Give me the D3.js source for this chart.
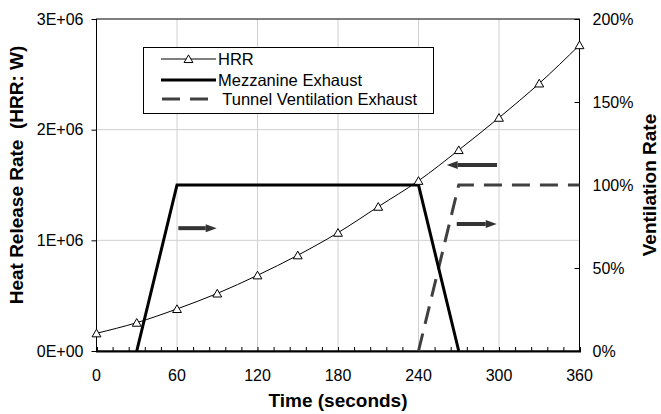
<!DOCTYPE html>
<html>
<head>
<meta charset="utf-8">
<script src="https://cdn.jsdelivr.net/npm/d3@7"></script>
<style>
  body { margin: 0; background: #fff; }
  text { font-family: "Liberation Sans", Arial, sans-serif; fill: #000; }
</style>
</head>
<body>
<svg id="chart" width="661" height="414"></svg>
<script>
const width = 661;
const height = 414;

// data
const hrrTime = [0, 30, 60, 90, 120, 150, 180, 210, 240, 270, 300, 330, 360];
const hrrValues = [160000, 256000, 380000, 520000, 684000, 865000, 1069000, 1304000, 1538000, 1816000, 2108000, 2418000, 2764000];

const mezzTime = [30, 60, 240, 270];
const mezzRate = [0, 1, 1, 0];

const tunnelTime = [240, 270, 360];
const tunnelRate = [0, 1, 1];

const xTicks = [0, 60, 120, 180, 240, 300, 360];
const yLeftTicks = [0, 1e6, 2e6, 3e6];
const yLeftLabels = ["0E+00", "1E+06", "2E+06", "3E+06"];
const yRightTicks = [0, 0.5, 1, 1.5, 2];

const legendNames = ["HRR", "Mezzanine Exhaust", " Tunnel Ventilation Exhaust"];

const margin = { left: 96.5, right: 81.5, top: 19, bottom: 63 };

const svg = d3.select("#chart");

const x = d3.scaleLinear().domain([0, 360]).range([margin.left, width - margin.right]);
const yL = d3.scaleLinear().domain([0, 3e6]).range([height - margin.bottom, margin.top]);
const yR = d3.scaleLinear().domain([0, 2]).range([height - margin.bottom, margin.top]);

const x0 = margin.left, x1 = width - margin.right;
const y0 = height - margin.bottom, y1 = margin.top;

/* grid */
const grid = svg.append("g").attr("stroke", "#d0d0d0").attr("stroke-width", 1);
xTicks.slice(1, -1).forEach(t => {
    grid.append("line")
        .attr("x1", x(t)).attr("x2", x(t))
        .attr("y1", y0).attr("y2", y1);
});
yLeftTicks.slice(1, -1).forEach(v => {
    grid.append("line")
        .attr("x1", x0).attr("x2", x1)
        .attr("y1", yL(v)).attr("y2", yL(v));
});

/* plot frame */
svg.append("rect")
    .attr("x", x0).attr("y", y1)
    .attr("width", x1 - x0).attr("height", y0 - y1)
    .attr("fill", "none").attr("stroke", "#000").attr("stroke-width", 1);

/* axes */
const xAxis = svg.append("g")
    .attr("transform", `translate(0,${y0})`)
    .call(d3.axisBottom(x).tickValues(d3.range(0, 361, 12)).tickSize(-4).tickFormat(""));
xAxis.select(".domain").attr("stroke", "#000").attr("stroke-width", 2);
svg.append("g")
    .attr("transform", `translate(0,${y0})`)
    .selectAll("text")
    .data(xTicks)
    .enter()
    .append("text")
    .attr("x", d => x(d))
    .attr("y", 30)
    .attr("text-anchor", "middle")
    .attr("font-size", 16)
    .text(d => d);

const yAxisL = svg.append("g")
    .attr("transform", `translate(${x0},0)`)
    .call(d3.axisLeft(yL).tickValues(yLeftTicks).tickSize(5).tickPadding(8)
        .tickFormat((d, i) => yLeftLabels[i]));
yAxisL.select(".domain").remove();
yAxisL.selectAll("text").attr("font-size", 16).attr("font-family", "Liberation Sans, Arial, sans-serif");

const yAxisR = svg.append("g")
    .attr("transform", `translate(${x1},0)`)
    .call(d3.axisRight(yR).tickValues(yRightTicks).tickSize(-5).tickPadding(13)
        .tickFormat(d3.format(".0%")));
yAxisR.select(".domain").remove();
yAxisR.selectAll("text").attr("font-size", 16).attr("font-family", "Liberation Sans, Arial, sans-serif");

/* series */
const rateLine = d3.line().x(d => x(d[0])).y(d => yR(d[1]));
svg.append("path")
    .datum(d3.zip(tunnelTime, tunnelRate))
    .attr("d", rateLine)
    .attr("fill", "none")
    .attr("stroke", "#404040")
    .attr("stroke-width", 3)
    .attr("stroke-dasharray", "18,10");

svg.append("path")
    .datum(d3.zip(mezzTime, mezzRate))
    .attr("d", rateLine)
    .attr("fill", "none")
    .attr("stroke", "#000")
    .attr("stroke-width", 3)
    .attr("stroke-linejoin", "miter");

const hrrData = d3.zip(hrrTime, hrrValues);
svg.append("path")
    .datum(hrrData)
    .attr("d", d3.line().x(d => x(d[0])).y(d => yL(d[1])).curve(d3.curveMonotoneX))
    .attr("fill", "none")
    .attr("stroke", "#000")
    .attr("stroke-width", 1);

const tri = d3.symbol().type(d3.symbolTriangle).size(34);
svg.append("g")
    .selectAll("path")
    .data(hrrData)
    .enter()
    .append("path")
    .attr("d", tri)
    .attr("transform", d => `translate(${x(d[0])},${yL(d[1]) + 1})`)
    .attr("fill", "#fff")
    .attr("stroke", "#000")
    .attr("stroke-width", 1);

/* arrows showing which axis each series reads from */
function arrow(xa, xb, yy) {
    const dir = xb > xa ? 1 : -1;
    const head = 11;
    svg.append("line")
        .attr("x1", xa).attr("x2", xb - dir * head)
        .attr("y1", yy).attr("y2", yy)
        .attr("stroke", "#333").attr("stroke-width", 4);
    svg.append("path")
        .attr("d", `M${xb},${yy}L${xb - dir * head},${yy - 4}L${xb - dir * head},${yy + 4}Z`)
        .attr("fill", "#333");
}
arrow(x(61), x(89.6), yR(0.74));
arrow(x(268.5), x(298.3), yR(0.765));
arrow(x(298.5), x(261), yL(1.68e6));

/* legend */
const lg = svg.append("g");
lg.append("rect")
    .attr("x", 143.5).attr("y", 47.5)
    .attr("width", 290).attr("height", 66)
    .attr("fill", "#fff").attr("stroke", "#000").attr("stroke-width", 1);
const rows = [59, 80, 99];
lg.append("line").attr("x1", 161).attr("x2", 216).attr("y1", rows[0]).attr("y2", rows[0])
    .attr("stroke", "#000").attr("stroke-width", 1);
lg.append("path").attr("d", tri).attr("transform", `translate(188.5,${rows[0] + 1})`)
    .attr("fill", "#fff").attr("stroke", "#000");
lg.append("line").attr("x1", 161).attr("x2", 216).attr("y1", rows[1]).attr("y2", rows[1])
    .attr("stroke", "#000").attr("stroke-width", 3);
lg.append("line").attr("x1", 162).attr("x2", 216).attr("y1", rows[2]).attr("y2", rows[2])
    .attr("stroke", "#404040").attr("stroke-width", 3).attr("stroke-dasharray", "18,10");
lg.selectAll("text.leg")
    .data(legendNames)
    .enter()
    .append("text")
    .attr("class", "leg")
    .attr("x", 218)
    .attr("y", (d, i) => rows[i] + 6)
    .attr("font-size", 16.5)
    .style("white-space", "pre")
    .text(d => d);

/* axis titles */
svg.append("text")
    .attr("transform", `translate(23,175) rotate(-90)`)
    .attr("text-anchor", "middle")
    .attr("font-size", 19)
    .attr("font-weight", "bold")
    .style("white-space", "pre")
    .text("Heat Release Rate  (HRR: W)");

svg.append("text")
    .attr("transform", `translate(656,${(y0 + y1) / 2}) rotate(-90)`)
    .attr("text-anchor", "middle")
    .attr("font-size", 19)
    .attr("font-weight", "bold")
    .text("Ventilation Rate");

svg.append("text")
    .attr("x", (x0 + x1) / 2)
    .attr("y", 407)
    .attr("text-anchor", "middle")
    .attr("font-size", 19)
    .attr("font-weight", "bold")
    .text("Time (seconds)");
</script>
</body>
</html>
